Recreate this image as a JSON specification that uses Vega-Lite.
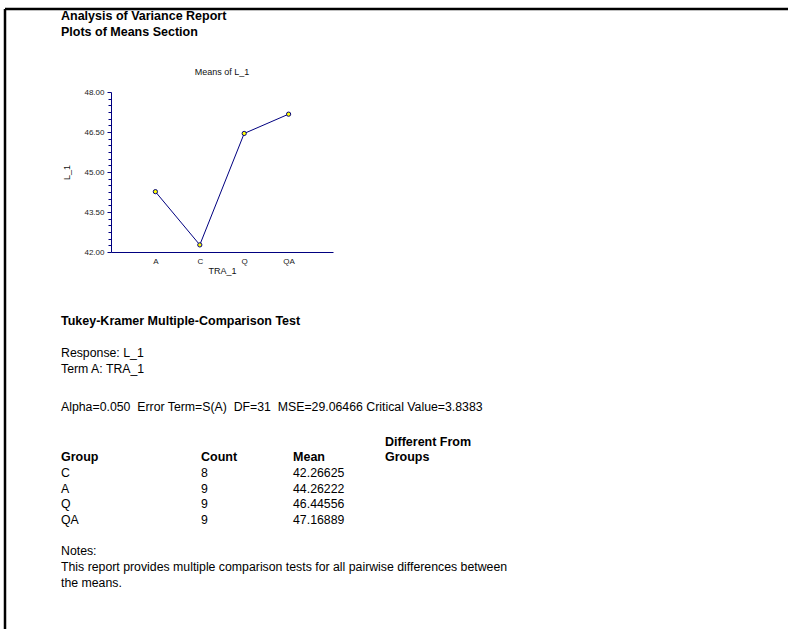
{
  "$schema": "https://vega.github.io/schema/vega-lite/v6.json",
  "width": 783,
  "height": 620,
  "padding": {"left": 5, "top": 9, "right": 0, "bottom": 0},
  "autosize": {"type": "none"},
  "background": "white",
  "view": {"stroke": "black", "strokeWidth": 2.5, "strokeDash": [783, 1403, 620, 0], "fill": null},
  "config": {"font": "Liberation Sans"},
  "layer": [
    {
      "data": {
        "values": [
          {"role": "heading", "tab": 0, "line": -0.05, "text": "Analysis of Variance Report"},
          {"role": "heading", "tab": 0, "line": 0.95, "text": "Plots of Means Section"},
          {"role": "chartTitle", "tab": 1.677, "line": 3.45, "text": "Means of L_1"},
          {"role": "heading", "tab": 0, "line": 19, "text": "Tukey-Kramer Multiple-Comparison Test"},
          {"role": "body", "tab": 0, "line": 21, "text": "Response: L_1"},
          {"role": "body", "tab": 0, "line": 22, "text": "Term A: TRA_1"},
          {"role": "body", "tab": 0, "line": 24.4, "text": "Alpha=0.050\u00a0 Error Term=S(A)\u00a0 DF=31\u00a0 MSE=29.06466 Critical Value=3.8383"},
          {"role": "heading", "tab": 3.375, "line": 26.55, "text": "Different From"},
          {"role": "heading", "tab": 0, "line": 27.5, "text": "Group"},
          {"role": "heading", "tab": 1.458, "line": 27.5, "text": "Count"},
          {"role": "heading", "tab": 2.417, "line": 27.5, "text": "Mean"},
          {"role": "heading", "tab": 3.375, "line": 27.5, "text": "Groups"},
          {"role": "body", "tab": 0, "line": 28.5, "text": "C"},
          {"role": "body", "tab": 1.458, "line": 28.5, "text": "8"},
          {"role": "body", "tab": 2.417, "line": 28.5, "text": "42.26625"},
          {"role": "body", "tab": 0, "line": 29.47, "text": "A"},
          {"role": "body", "tab": 1.458, "line": 29.47, "text": "9"},
          {"role": "body", "tab": 2.417, "line": 29.47, "text": "44.26222"},
          {"role": "body", "tab": 0, "line": 30.44, "text": "Q"},
          {"role": "body", "tab": 1.458, "line": 30.44, "text": "9"},
          {"role": "body", "tab": 2.417, "line": 30.44, "text": "46.44556"},
          {"role": "body", "tab": 0, "line": 31.41, "text": "QA"},
          {"role": "body", "tab": 1.458, "line": 31.41, "text": "9"},
          {"role": "body", "tab": 2.417, "line": 31.41, "text": "47.16889"},
          {"role": "body", "tab": 0, "line": 33.35, "text": "Notes:"},
          {"role": "body", "tab": 0, "line": 34.35, "text": "This report provides multiple comparison tests for all pairwise differences between"},
          {"role": "body", "tab": 0, "line": 35.35, "text": "the means."}
        ]
      },
      "encoding": {
        "x": {"field": "tab", "type": "quantitative", "scale": {"domain": [0, 1], "range": [56, 152], "zero": false, "nice": false}, "axis": null},
        "y": {"field": "line", "type": "quantitative", "scale": {"domain": [0, 1], "range": [8, 24], "zero": false, "nice": false}, "axis": null},
        "text": {"field": "text"}
      },
      "layer": [
        {
          "transform": [{"filter": "datum.role === 'heading'"}],
          "mark": {"type": "text", "align": "left", "baseline": "middle", "fontWeight": "bold", "fontSize": 12.5, "font": "Liberation Sans", "color": "black"}
        },
        {
          "transform": [{"filter": "datum.role === 'body'"}],
          "mark": {"type": "text", "align": "left", "baseline": "middle", "fontWeight": "normal", "fontSize": 12.3, "font": "Liberation Sans", "color": "black"}
        },
        {
          "transform": [{"filter": "datum.role === 'chartTitle'"}],
          "mark": {"type": "text", "align": "center", "baseline": "middle", "fontWeight": "normal", "fontSize": 9, "font": "Liberation Sans Narrow, Liberation Sans", "color": "#111111"}
        }
      ]
    },
    {
      "data": {
        "values": [
          {"TRA_1": "A", "L_1": 44.26222},
          {"TRA_1": "C", "L_1": 42.26625},
          {"TRA_1": "Q", "L_1": 46.44556},
          {"TRA_1": "QA", "L_1": 47.16889}
        ]
      },
      "encoding": {
        "x": {
          "field": "TRA_1", "type": "nominal", "sort": ["A", "C", "Q", "QA"],
          "scale": {"type": "point", "range": [106, 328], "padding": 1},
          "axis": {
            "orient": "bottom", "offset": -377, "title": "TRA_1", "labelAngle": 0,
            "ticks": false, "labelFontSize": 8, "labelColor": "#222222", "labelPadding": 5,
            "titleFontSize": 9, "titleFontWeight": "normal", "titleColor": "#111111", "titlePadding": 1,
            "domainColor": "#000080", "domainWidth": 1, "grid": false
          }
        },
        "y": {
          "field": "L_1", "type": "quantitative",
          "scale": {"domain": [42, 48], "range": [243, 83], "nice": false, "zero": false},
          "axis": {
            "orient": "left", "offset": -106, "title": "L_1",
            "values": [42, 42.25, 42.5, 42.75, 43, 43.25, 43.5, 43.75, 44, 44.25, 44.5, 44.75, 45, 45.25, 45.5, 45.75, 46, 46.25, 46.5, 46.75, 47, 47.25, 47.5, 47.75, 48],
            "labelExpr": "datum.value % 1.5 === 0 ? format(datum.value, '.2f') : ''",
            "labelOverlap": false, "labelFlush": false,
            "tickSize": {"condition": {"test": "datum.value % 1.5 === 0", "value": 4}, "value": 3},
            "tickColor": "#000080", "tickWidth": 1,
            "labelFontSize": 8, "labelColor": "#222222", "labelPadding": 3,
            "titleFontSize": 9, "titleFontWeight": "normal", "titleColor": "#111111", "titlePadding": 12,
            "domainColor": "#000080", "domainWidth": 1, "grid": false
          }
        }
      },
      "layer": [
        {"mark": {"type": "line", "color": "#000080", "strokeWidth": 1}},
        {"mark": {"type": "circle", "size": 18, "fill": "#ffff00", "stroke": "#000080", "strokeWidth": 1, "opacity": 1}}
      ]
    }
  ],
  "resolve": {"scale": {"x": "independent", "y": "independent"}}
}
